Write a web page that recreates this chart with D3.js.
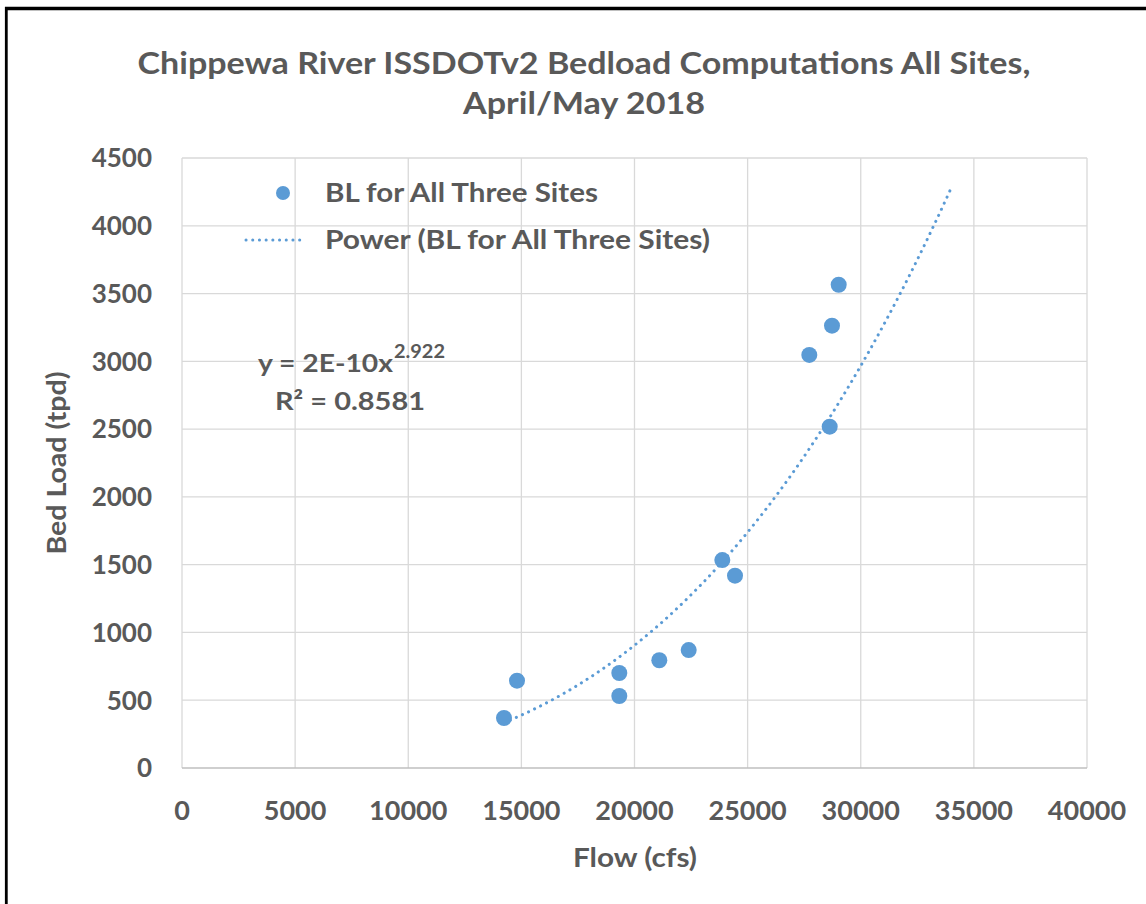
<!DOCTYPE html>
<html>
<head>
<meta charset="utf-8">
<script src="https://cdn.jsdelivr.net/npm/d3@7"></script>
<style>
body { margin:0; background:#fff; }
text { font-family: Lato, "Open Sans", sans-serif; font-weight:bold; fill:#595959; }
</style>
</head>
<body>
<div id="viz"></div>
<script>

// flow (cfs) and bed load (tpd)
var flow = [14232, 14807, 19328, 19328, 21097, 22396, 23881, 24442, 27726, 28729, 29025, 28627];
var load = [369, 644, 701, 531, 795, 870, 1534, 1419, 3047, 3263, 3565, 2518];

var xTicks = [0, 5000, 10000, 15000, 20000, 25000, 30000, 35000, 40000];
var yTicks = [0, 500, 1000, 1500, 2000, 2500, 3000, 3500, 4000, 4500];

var titleLines = ["Chippewa River ISSDOTv2 Bedload Computations All Sites,", "April/May 2018"];
var seriesName = "BL for All Three Sites";
var trendName = "Power (BL for All Three Sites)";
var eqText = "y = 2E-10x", eqPow = "2.922", r2Text = "R² = 0.8581";

var width = 1146, height = 904;
var blue = "#5B9BD5";

var svg = d3.select("#viz")
	.append("svg")
	.attr("width", width)
	.attr("height", height);

// the original font runs wider than Lato, so stretch text to its measured width
function stretch(sel, w){
	sel.attr("textLength", w).attr("lengthAdjust", "spacingAndGlyphs");
}

// frame
svg.append("line").attr("x1",5).attr("x2",width).attr("y1",8.5).attr("y2",8.5)
	.attr("stroke","#000").attr("stroke-width",3.5);
svg.append("line").attr("x1",6.3).attr("x2",6.3).attr("y1",7).attr("y2",height)
	.attr("stroke","#000").attr("stroke-width",2.8);

var x = d3.scaleLinear().domain([0, 40000]).range([182, 1087]);
var y = d3.scaleLinear().domain([0, 4500]).range([768, 158]);

// grid
svg.append("g").selectAll("line")
	.data(xTicks)
	.enter().append("line")
	.attr("x1", d=>x(d)).attr("x2", d=>x(d))
	.attr("y1", y(0)).attr("y2", y(4500))
	.attr("stroke", "#D9D9D9").attr("stroke-width", 1.3);

svg.append("g").selectAll("line")
	.data(yTicks)
	.enter().append("line")
	.attr("x1", x(0)).attr("x2", x(40000))
	.attr("y1", d=>y(d)).attr("y2", d=>y(d))
	.attr("stroke", d=> d==0 ? "#BFBFBF" : "#D9D9D9").attr("stroke-width", d=> d==0 ? 1.6 : 1.3);

// tick labels
svg.append("g").selectAll("text")
	.data(yTicks)
	.enter().append("text")
	.attr("x", 152).attr("y", d=>y(d))
	.attr("dy", "0.36em")
	.attr("text-anchor", "end")
	.style("font-size", "26px")
	.text(d=>d);

svg.append("g").selectAll("text")
	.data(xTicks)
	.enter().append("text")
	.attr("x", d=>x(d)).attr("y", 810)
	.attr("dy", "0.36em")
	.attr("text-anchor", "middle")
	.style("font-size", "27px")
	.text(d=>d);

// axis titles
svg.append("text")
	.attr("x", 635).attr("y", 858).attr("dy", "0.36em")
	.attr("text-anchor", "middle")
	.style("font-size", "26px")
	.call(stretch, 124)
	.text("Flow (cfs)");

svg.append("text")
	.attr("transform", "translate(57,463) rotate(-90)")
	.attr("dy", "0.36em")
	.attr("text-anchor", "middle")
	.style("font-size", "26px")
	.call(stretch, 183)
	.text("Bed Load (tpd)");

// title
var titleW = [893, 242];
svg.append("g").selectAll("text")
	.data(titleLines)
	.enter().append("text")
	.attr("x", 584).attr("y", (d,i)=>74 + i*40)
	.attr("text-anchor", "middle")
	.style("font-size", "30px")
	.attr("textLength", (d,i)=>titleW[i])
	.attr("lengthAdjust", "spacingAndGlyphs")
	.text(d=>d);

// power trendline, least squares fit on log-log, forecast 5000 forward
var data = flow.map((f,i)=>({x:f, y:load[i]}));
var lx = flow.map(Math.log), ly = load.map(Math.log);
var mx = d3.mean(lx), my = d3.mean(ly);
var b = d3.sum(lx, (v,i)=>(v-mx)*(ly[i]-my)) / d3.sum(lx, v=>(v-mx)*(v-mx));
var a = Math.exp(my - b*mx);
var x0 = d3.min(flow), x1 = d3.max(flow) + 5000;
var trend = d3.range(0, 101).map(i=>{
	var xv = x0 + (x1-x0)*i/100;
	return [xv, a*Math.pow(xv, b)];
});

svg.append("path")
	.datum(trend)
	.attr("d", d3.line().x(d=>x(d[0])).y(d=>y(d[1])))
	.attr("fill", "none")
	.attr("stroke", blue)
	.attr("stroke-width", 3)
	.attr("stroke-linecap", "round")
	.attr("stroke-dasharray", "0.1 6.6");

svg.selectAll("circle.pt")
	.data(data)
	.enter().append("circle")
	.attr("class", "pt")
	.attr("cx", d=>x(d.x))
	.attr("cy", d=>y(d.y))
	.attr("r", 8)
	.attr("fill", blue);

// legend
svg.append("circle").attr("cx", 283).attr("cy", 193).attr("r", 7).attr("fill", blue);
svg.append("text").attr("x", 325).attr("y", 193).attr("dy", "0.36em")
	.style("font-size", "26px").call(stretch, 273).text(seriesName);
svg.append("line").attr("x1", 246).attr("x2", 302).attr("y1", 240).attr("y2", 240)
	.attr("stroke", blue).attr("stroke-width", 3)
	.attr("stroke-linecap", "round").attr("stroke-dasharray", "0.1 6.6");
svg.append("text").attr("x", 325).attr("y", 240).attr("dy", "0.36em")
	.style("font-size", "26px").call(stretch, 385).text(trendName);

// equation label
var eq = svg.append("g");
eq.append("text").attr("x", 258).attr("y", 372).style("font-size", "25px")
	.call(stretch, 135).text(eqText);
eq.append("text").attr("x", 394).attr("y", 358).style("font-size", "18px")
	.call(stretch, 51).text(eqPow);
svg.append("text").attr("x", 275).attr("y", 410).style("font-size", "25px")
	.call(stretch, 150).text(r2Text);

</script>
</body>
</html>
